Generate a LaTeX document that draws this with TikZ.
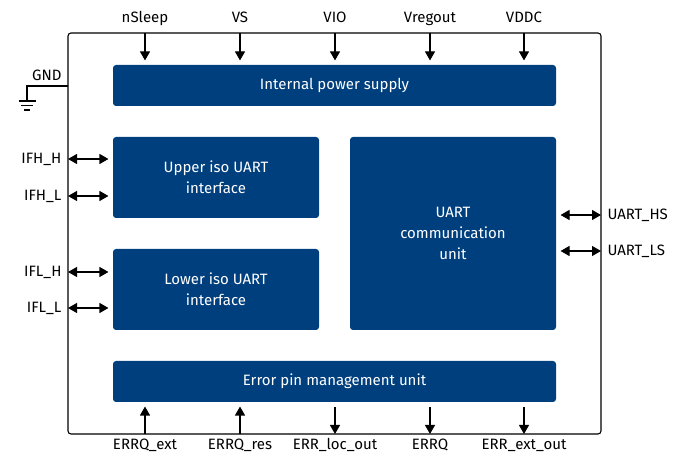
\documentclass[tikz,border=0pt]{standalone}
\usepackage{fontspec}
\setmainfont{Fira Sans}
\usetikzlibrary{arrows.meta,positioning}
\definecolor{ifxblue}{RGB}{0,63,125}

\begin{document}
\begin{tikzpicture}[x=1pt,y=-1pt,line width=1.1pt,>={Triangle[length=9pt,width=10pt]},
    font=\fontsize{15}{21}\selectfont,
    block/.style={fill=ifxblue,rounded corners=3pt,text=white,align=center,inner sep=0pt},
    pinlabel/.style={inner sep=0pt}]
    \useasboundingbox (0,0) rectangle (673,454);
    % chip outline
    \draw[rounded corners=3pt] (68,33) rectangle (601,434);
    % function blocks
    \node[block,minimum width=443pt,minimum height=41pt] (pwr) at (334.5,85.5) {Internal power supply};
    \node[block,minimum width=206pt,minimum height=81pt] (upper) at (216,177.5) {Upper iso UART\\interface};
    \node[block,minimum width=206pt,minimum height=81pt] (lower) at (216,289.5) {Lower iso UART\\interface};
    \node[block,minimum width=206pt,minimum height=193pt] (uart) at (453,233.5) {UART\\communication\\unit};
    \node[block,minimum width=443pt,minimum height=41pt] (err) at (334.5,381.5) {Error pin management unit};
    % supply pins
    \foreach \x/\n/\t in {145/nsleep/nSleep,240/vs/VS,335/vio/VIO,430/vreg/Vregout,524/vddc/VDDC} {
        \node[pinlabel,anchor=base] (\n) at (\x,23) {\t};
        \coordinate (\n-pin) at (\x,33);
        \draw[->,shorten >=4pt] (\n-pin) -- (\n-pin |- pwr.north);
    }
    % error pins
    \foreach \x/\n/\t in {145/errqext/ERRQ\_ext,240/errqres/ERRQ\_res} {
        \node[pinlabel,anchor=base] (\n) at (\x,450) {\t};
        \coordinate (\n-pin) at (\x,434);
        \draw[->,shorten >=4pt] (\n-pin) -- (\n-pin |- err.south);
    }
    \foreach \x/\n/\t in {335/errlocout/ERR\_loc\_out,430/errq/ERRQ,524/errextout/ERR\_ext\_out} {
        \node[pinlabel,anchor=base] (\n) at (\x,450) {\t};
        \coordinate (\n-pin) at (\x,434);
        \draw[<-,shorten >=4pt] (\n-pin) -- (\n-pin |- err.south);
    }
    % bus pins left
    \foreach \y/\n/\t/\b in {159/ifhh/IFH\_H/upper,196/ifhl/IFH\_L/upper,272/iflh/IFL\_H/lower,308/ifll/IFL\_L/lower} {
        \node[pinlabel,anchor=east] (\n) at (62,\y) {\t};
        \coordinate (\n-pin) at (68,\y);
        \draw[<->,shorten >=4pt] (\n-pin) -- (\n-pin -| \b.west);
    }
    % bus pins right
    \foreach \y/\n/\t in {215/uarths/UART\_HS,251/uartls/UART\_LS} {
        \node[pinlabel,anchor=west] (\n) at (607,\y) {\t};
        \coordinate (\n-pin) at (601,\y);
        \draw[<->,shorten >=4pt] (\n-pin) -- (\n-pin -| uart.east);
    }
    % ground
    \node[pinlabel,anchor=base east] (gnd) at (62,81) {GND};
    \coordinate (gnd-pin) at (68,86);
    \coordinate (gnd-sym) at (27,101);
    \draw (gnd-pin) -| (gnd-sym);
    \draw ([xshift=-8.5pt]gnd-sym) -- ++(17,0)
          ([xshift=-6pt,yshift=-4.5pt]gnd-sym) -- ++(12,0)
          ([xshift=-3pt,yshift=-9pt]gnd-sym) -- ++(6,0);
\end{tikzpicture}
\end{document}
